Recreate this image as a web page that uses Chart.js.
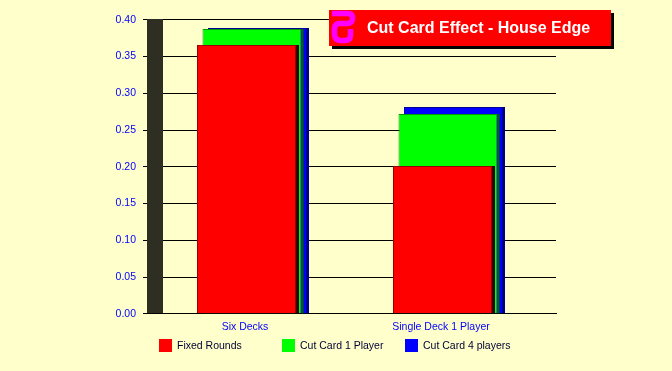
<!DOCTYPE html>
<html><head><meta charset="utf-8">
<style>
html,body{margin:0;padding:0;background:#FFFFCC;}
#wrap{position:relative;width:672px;height:371px;overflow:hidden;font-family:"Liberation Sans",Arial,sans-serif;}
canvas{position:absolute;left:0;top:0;}
#title{position:absolute;left:329px;top:10px;width:282px;height:36px;background:#f00;box-shadow:3px 3px 0 #000;color:#fff;font-weight:bold;font-size:16px;line-height:36px;white-space:nowrap;}
#title span{position:absolute;left:38px;top:0;}
#title svg{position:absolute;left:0;top:0;}
.lg{position:absolute;top:339px;height:13px;font-size:10.5px;line-height:13px;color:#000033;white-space:nowrap;}
.lg i{position:absolute;left:0;top:0;width:13px;height:13px;}
.lg span{position:absolute;left:18px;top:0;}
</style></head>
<body><div id="wrap">
<canvas id="c" width="672" height="371"></canvas>
<div id="title"><svg width="30" height="36"><path d="M3 3.5H19Q23.5 3.5 23.5 8Q23.5 13.5 18 13.5H10Q5.5 13.5 5.5 19V24Q5.5 30.5 12 30.5H16Q21.5 30.5 21.5 25V19" fill="none" stroke="#ff00ff" stroke-width="5.5"/></svg><span id="tt"></span></div>
</div>
<script src="https://cdn.jsdelivr.net/npm/chart.js@4"></script>
<script>
const chartTitle = "Cut Card Effect - House Edge";
const categories = ["Six Decks", "Single Deck 1 Player"];
const seriesNames = ["Fixed Rounds", "Cut Card 1 Player", "Cut Card 4 players"];
const fixedRounds = [0.3657, 0.2011];
const cutCard1 = [0.3875, 0.2718];
const cutCard4 = [0.3888, 0.2814];
const fills = ["#ff0000", "#00ff00", "#0000ff"];
const borders = ["#990000", "#009900", "#000099"];
const sides = ["#330000", "#006600", "#000080"];
const sideWidths = [3, 2, 2];
const legendLeft = [159, 282, 405];

document.getElementById('tt').textContent = chartTitle;
seriesNames.forEach((n, i) => {
  const d = document.createElement('div');
  d.className = 'lg'; d.style.left = legendLeft[i] + 'px';
  d.innerHTML = '<i style="background:' + fills[i] + '"></i><span>' + n + '</span>';
  document.getElementById('wrap').appendChild(d);
});

const toPts = a => a.map((y, x) => ({x, y}));
const wall = {
  id: 'wall',
  beforeDatasetsDraw(ch) {
    const a = ch.chartArea, g = ch.ctx;
    g.save(); g.fillStyle = '#2e2e22';
    g.fillRect(a.left, Math.floor(a.top), 16, a.bottom - a.top);
    g.restore();
  }
};
const barSides = {
  id: 'barSides',
  afterDatasetDraw(ch, args) {
    const g = ch.ctx;
    g.save(); g.fillStyle = sides[args.index];
    ch.getDatasetMeta(args.index).data.forEach(b => {
      g.fillRect(b.x + b.width / 2, b.y, sideWidths[args.index], b.base - b.y);
    });
    g.restore();
  }
};
new Chart(document.getElementById('c'), {
  type: 'bar',
  data: {
    datasets: [fixedRounds, cutCard1, cutCard4].map((v, i) => ({
      label: seriesNames[i], data: toPts(v),
      backgroundColor: fills[i], borderColor: borders[i], borderWidth: 1,
      categoryPercentage: 16.5 / 196, barPercentage: 18
    }))
  },
  options: {
    responsive: false, animation: false, devicePixelRatio: 1,
    layout: {padding: {left: 0, right: 116, top: 19.8, bottom: 0}},
    plugins: {legend: {display: false}, title: {display: false}, tooltip: {enabled: false}},
    scales: {
      x: {
        type: 'linear', offset: false, min: -105 / 196, max: 304 / 196,
        afterBuildTicks(s) { s.ticks = categories.map((_, i) => ({value: i})); },
        afterFit(s) { s.height = 57.2; },
        grid: {display: false, drawTicks: false},
        border: {color: '#000', width: 1},
        ticks: {
          callback: v => categories[v], color: '#0000ff', padding: 7, maxRotation: 0, autoSkip: false,
          labelOffset: -7, font: {family: '"Liberation Sans",Arial,sans-serif', size: 10.5}
        }
      },
      y: {
        min: 0, max: 0.4,
        afterFit(s) { s.width = 147; },
        grid: {color: '#000', lineWidth: 1, tickLength: 4},
        border: {display: false},
        ticks: {
          stepSize: 0.05, callback: v => v.toFixed(2), color: '#0000ff', padding: 7,
          font: {family: '"Liberation Sans",Arial,sans-serif', size: 10.5}
        }
      }
    }
  },
  plugins: [wall, barSides]
});
</script>
</body></html>
